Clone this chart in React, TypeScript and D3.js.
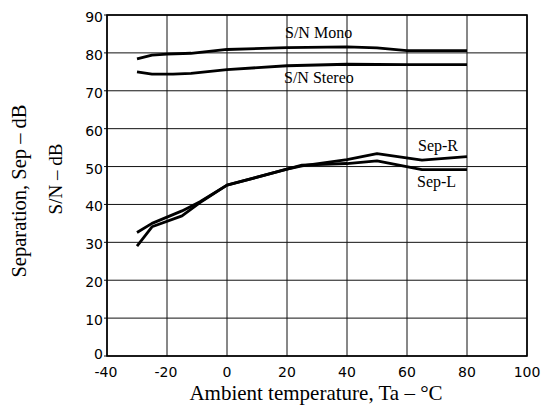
import React from "react";
import * as d3 from "d3";

const xTicks = [-40, -20, 0, 20, 40, 60, 80, 100];
const yTicks = [0, 10, 20, 30, 40, 50, 60, 70, 80, 90];

const snMonoT = [-30, -25, -20, -12, 0, 20, 40, 50, 60, 80];
const snMonoV = [78.4, 79.4, 79.7, 79.9, 80.9, 81.4, 81.6, 81.3, 80.6, 80.6];

const snStereoT = [-30, -25, -18, -12, 0, 20, 40, 60, 80];
const snStereoV = [75.0, 74.4, 74.4, 74.6, 75.6, 76.6, 77.0, 76.9, 76.9];

const sepLT = [-30, -25, -15, -9, 0, 20, 25, 40, 50, 65, 80];
const sepLV = [32.6, 35.0, 38.3, 40.7, 45.1, 49.3, 50.4, 50.8, 51.5, 49.2, 49.2];

const sepRT = [-30, -25, -15, -9, 0, 20, 25, 40, 50, 65, 80];
const sepRV = [29.0, 34.1, 37.0, 40.5, 45.1, 49.3, 50.2, 51.8, 53.4, 51.7, 52.6];

const seriesLabels = ["S/N Mono", "S/N Stereo", "Sep-R", "Sep-L"];
const xTitle = "Ambient temperature, Ta – °C";
const yTitle1 = "Separation, Sep – dB";
const yTitle2 = "S/N – dB";

export default function App() {
  const x = d3.scaleLinear().domain([-40, 100]).range([107, 527]);
  const y = d3.scaleLinear().domain([0, 90]).range([356, 15]);
  const line = d3
    .line<[number, number]>()
    .x((d) => x(d[0]))
    .y((d) => y(d[1]));
  const zip = (t: number[], v: number[]) => t.map((tt, i) => [tt, v[i]] as [number, number]);
  const series = [
    zip(snMonoT, snMonoV),
    zip(snStereoT, snStereoV),
    zip(sepRT, sepRV),
    zip(sepLT, sepLV),
  ];
  const serif = "'Liberation Serif', 'Times New Roman', serif";
  const sans = "'DejaVu Sans', sans-serif";
  return (
    <svg
      width={542}
      height={405}
      style={{ position: "absolute", left: 0, top: 0, background: "#fff" }}
    >
      <rect x={0} y={0} width={542} height={405} fill="#fff" />
      {xTicks.map((t) => (
        <line key={"gx" + t} x1={x(t)} x2={x(t)} y1={y(90)} y2={y(0)} stroke="#111" strokeWidth={1} />
      ))}
      {yTicks.map((t) => (
        <line key={"gy" + t} x1={x(-40) - 3} x2={x(100)} y1={y(t)} y2={y(t)} stroke="#111" strokeWidth={1} />
      ))}
      <rect
        x={x(-40)}
        y={y(90)}
        width={x(100) - x(-40)}
        height={y(0) - y(90)}
        fill="none"
        stroke="#000"
        strokeWidth={1.6}
      />
      {yTicks.map((t) => (
        <text
          key={"ly" + t}
          x={x(-40) - 4}
          y={y(t) + (t === 0 ? -2 : 2)}
          textAnchor="end"
          dominantBaseline="central"
          fontFamily={sans}
          fontSize={14}
          fill="#000"
        >
          {t}
        </text>
      ))}
      {xTicks.map((t) => (
        <text
          key={"lx" + t}
          x={x(t) + (t < 0 ? -1 : 0)}
          y={377}
          textAnchor="middle"
          fontFamily={sans}
          fontSize={14}
          fill="#000"
        >
          {t}
        </text>
      ))}
      {series.map((s, i) => (
        <path
          key={"s" + i}
          d={line(s) || ""}
          fill="none"
          stroke="#000"
          strokeWidth={2.8}
          strokeLinejoin="round"
        />
      ))}
      <text x={285} y={38} fontFamily={serif} fontSize={16} fill="#000">
        {seriesLabels[0]}
      </text>
      <text x={284} y={83} fontFamily={serif} fontSize={16} fill="#000">
        {seriesLabels[1]}
      </text>
      <text x={418} y={151} fontFamily={serif} fontSize={16} fill="#000">
        {seriesLabels[2]}
      </text>
      <text x={417} y={187} fontFamily={serif} fontSize={16} fill="#000">
        {seriesLabels[3]}
      </text>
      <text x={316} y={400} textAnchor="middle" fontFamily={serif} fontSize={21} fill="#000">
        {xTitle}
      </text>
      <text
        transform="translate(26,191) rotate(-90)"
        textAnchor="middle"
        fontFamily={serif}
        fontSize={20.5}
        fill="#000"
      >
        {yTitle1}
      </text>
      <text
        transform="translate(62,179) rotate(-90)"
        textAnchor="middle"
        fontFamily={serif}
        fontSize={19}
        fill="#000"
      >
        {yTitle2}
      </text>
    </svg>
  );
}
